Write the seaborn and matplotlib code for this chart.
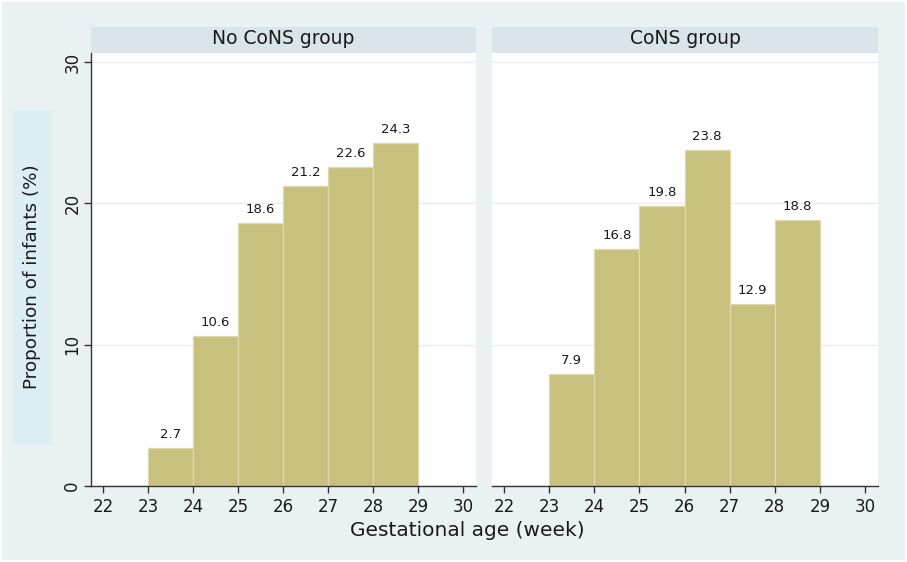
import numpy as np
import pandas as pd
import matplotlib
matplotlib.use("Agg")
import matplotlib.pyplot as plt
from matplotlib.patches import Rectangle
import seaborn as sns

weeks = [23, 24, 25, 26, 27, 28]
no_cons = [2.7, 10.6, 18.6, 21.2, 22.6, 24.3]
cons = [7.9, 16.8, 19.8, 23.8, 12.9, 18.8]
panel_titles = ["No CoNS group", "CoNS group"]
x_ticks = [22, 23, 24, 25, 26, 27, 28, 29, 30]
y_ticks = [0, 10, 20, 30]
x_label = "Gestational age (week)"
y_label = "Proportion of infants (%)"

sns.set_theme(style="white")
plt.rcParams['font.family'] = ['DejaVu Sans']

BG = "#EAF1F3"
STRIP = "#D9E5EB"
BAR = "#C8C17E"
TXT = "#1a1a1a"

fig = plt.figure(figsize=(9.07, 5.62), dpi=100)
fig.patch.set_facecolor(BG)
fig.patch.set_edgecolor("white")
fig.patch.set_linewidth(1.5)

W, H = 907, 562
def ax_rect(x0, x1, y0, y1):
    return [x0 / W, (H - y1) / H, (x1 - x0) / W, (y1 - y0) / H]

ax1 = fig.add_axes(ax_rect(91, 476, 53, 486))
ax2 = fig.add_axes(ax_rect(492, 878, 53, 486))

bins = list(range(22, 31))
for ax, vals, title, first in [(ax1, no_cons, panel_titles[0], True),
                               (ax2, cons, panel_titles[1], False)]:
    df = pd.DataFrame({"week": weeks, "pct": vals})
    sns.histplot(data=df, x="week", weights="pct", bins=bins, ax=ax,
                 color=BAR, alpha=1, edgecolor="#DEDAAE", linewidth=0.9)
    ax.set_facecolor("white")
    ax.set_xlim(21.73, 30.29)
    ax.set_ylim(0, 30.64)
    ax.set_xticks(x_ticks)
    ax.set_yticks(y_ticks)
    for yv in y_ticks[1:]:
        ax.axhline(yv, color="#E4EDF1", lw=1.0, zorder=0)
    ax.set_xlabel("")
    ax.set_ylabel("")
    for s in ["top", "right"]:
        ax.spines[s].set_visible(False)
    ax.spines["bottom"].set_color("#333333")
    ax.spines["bottom"].set_linewidth(1.0)
    if first:
        ax.spines["left"].set_color("#333333")
        ax.spines["left"].set_linewidth(1.0)
        ax.tick_params(axis="y", length=5, width=1, color="#333333",
                       labelsize=12, labelcolor=TXT, pad=2, left=True)
        for lab in ax.get_yticklabels():
            lab.set_rotation(90)
            lab.set_va("center")
    else:
        ax.spines["left"].set_visible(False)
        ax.tick_params(axis="y", left=False, labelleft=False)
    ax.tick_params(axis="x", length=5, width=1, color="#333333",
                   labelsize=12, labelcolor=TXT, pad=4, bottom=True)
    cont = ax.containers[0]
    ax.bar_label(cont, labels=[f"{v:.1f}" if v > 0 else "" for v in cont.datavalues],
                 padding=5, fontsize=9.5, color=TXT)
    # strip header
    ax.add_patch(Rectangle((0, 1.0), 1, 26 / 433, transform=ax.transAxes,
                           facecolor=STRIP, edgecolor="none", clip_on=False))
    ax.text(0.5, 1.0 + 14 / 433, title, transform=ax.transAxes, ha="center",
            va="center", fontsize=13.5, color=TXT)

# y label box
fig.patches.append(Rectangle((13 / W, (H - 445) / H), 39 / W, 335 / H,
                             transform=fig.transFigure, facecolor="#DCEEF3",
                             edgecolor="none", zorder=0))
fig.text(32 / W, (H - 277) / H, y_label, rotation=90, ha="center", va="center",
         fontsize=13.2, color=TXT)
fig.text(467 / W, (H - 531) / H, x_label, ha="center", va="center",
         fontsize=14.5, color=TXT)

fig.savefig("out.png", dpi=100, facecolor=BG, edgecolor="white")
